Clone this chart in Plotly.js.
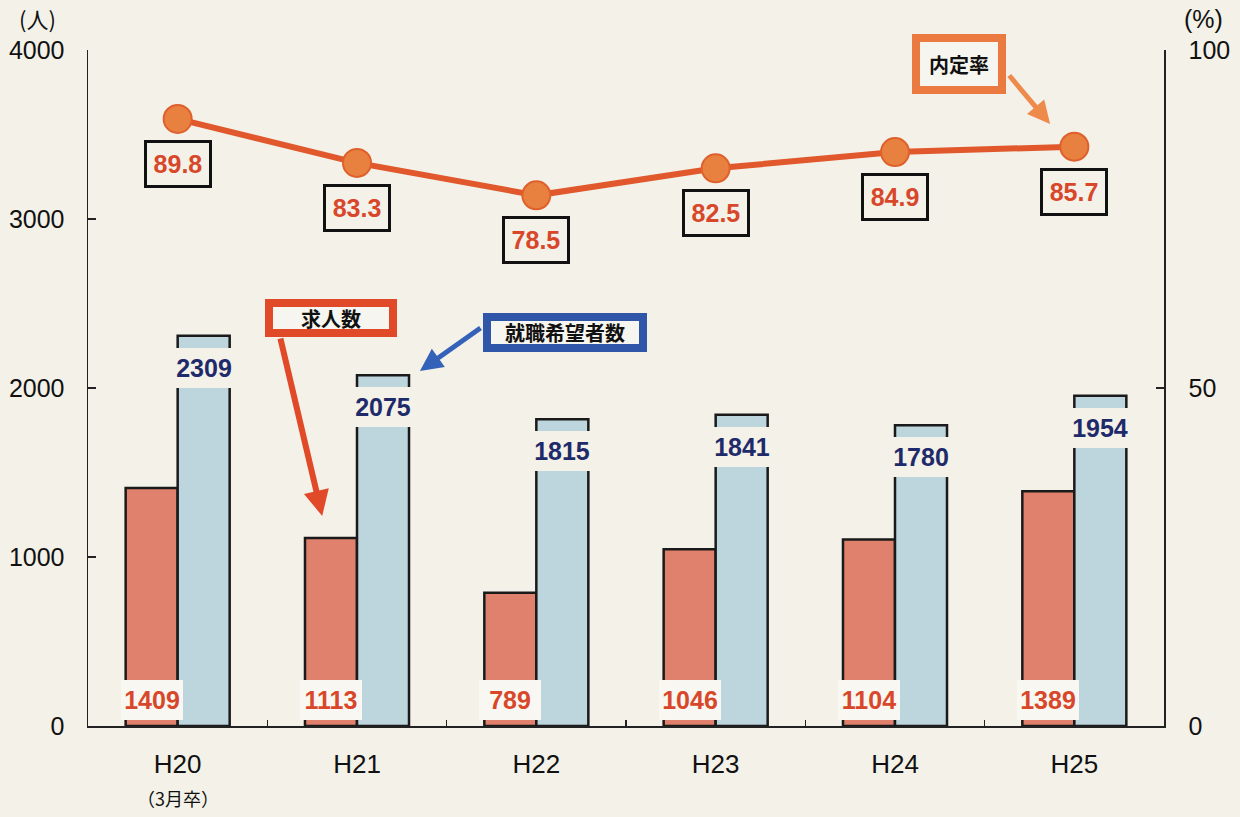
<!DOCTYPE html>
<html>
<head>
<meta charset="utf-8">
<script src="https://cdn.plot.ly/plotly-3.0.1.min.js"></script>
<style>
  html, body { margin: 0; padding: 0; background: #f3f1e8; }
  #chart { width: 1240px; height: 817px; }
</style>
</head>
<body>
<div id="chart"></div>
<script>
// ---- data ----
const categories = ['H20', 'H21', 'H22', 'H23', 'H24', 'H25'];
const jobOffers = [1409, 1113, 789, 1046, 1104, 1389];      // 求人数
const applicants = [2309, 2075, 1815, 1841, 1780, 1954];    // 就職希望者数
const offerRate = [89.8, 83.3, 78.5, 82.5, 84.9, 85.7];     // 内定率 (%)
const leftTicks = [0, 1000, 2000, 3000, 4000];
const rightTicks = [0, 50, 100];

// ---- style ----
const PAPER = '#f3f1e8';
const FONT = 'Liberation Sans, Arial, Noto Sans CJK JP, sans-serif';
const CJK = 'Noto Sans CJK JP, Liberation Sans, sans-serif';
const RED_BAR = '#e0816e';
const BLUE_BAR = '#bdd5dc';
const RED_TXT = '#d8472a';
const NAVY_TXT = '#1e2a6a';
const LINE_COL = '#e0582b';
const BARGAP = 0.42;
const BAR_W = (1 - BARGAP) / 2;

const traces = [
  {
    type: 'bar', x: categories, y: jobOffers, name: '求人数',
    marker: { color: RED_BAR, line: { color: '#1a1a1a', width: 2.5 } },
    hoverinfo: 'skip'
  },
  {
    type: 'bar', x: categories, y: applicants, name: '就職希望者数',
    marker: { color: BLUE_BAR, line: { color: '#1a1a1a', width: 2.5 } },
    hoverinfo: 'skip'
  },
  {
    type: 'scatter', mode: 'lines+markers', x: categories, y: offerRate,
    yaxis: 'y2', name: '内定率',
    line: { color: LINE_COL, width: 6 },
    marker: { size: 28, color: '#e8813f', line: { color: '#e0602d', width: 2 } },
    hoverinfo: 'skip'
  }
];

const annotations = [];

// callout arrows (drawn first, under boxes)
annotations.push({
  xref: 'x', yref: 'y', axref: 'x', ayref: 'y',
  x: 0.806, y: 1243, ax: 0.571, ay: 2302, text: '',
  showarrow: true, arrowhead: 2, arrowsize: 0.85, arrowwidth: 6, arrowcolor: '#e04a28', standoff: 0
});
annotations.push({
  xref: 'x', yref: 'y', axref: 'x', ayref: 'y',
  x: 1.351, y: 2101, ax: 1.697, ay: 2361, text: '',
  showarrow: true, arrowhead: 2, arrowsize: 0.9, arrowwidth: 5, arrowcolor: '#3462b8', standoff: 0
});
annotations.push({
  xref: 'x', yref: 'y', axref: 'x', ayref: 'y',
  x: 4.865, y: 3562, ax: 4.63, ay: 3858, text: '',
  showarrow: true, arrowhead: 2, arrowsize: 0.9, arrowwidth: 5, arrowcolor: '#ee8a4c', standoff: 0
});

// callout boxes
annotations.push({
  xref: 'x', yref: 'y', x: 0.855, y: 2414, text: '求人数', showarrow: false,
  font: { family: CJK, size: 20, color: '#111', weight: 'bold' },
  bgcolor: '#f7f5ef', bordercolor: '#e04a28', borderwidth: 8, borderpad: 0,
  width: 116, height: 22
});
annotations.push({
  xref: 'x', yref: 'y', x: 2.16, y: 2328, text: '就職希望者数', showarrow: false,
  font: { family: CJK, size: 20, color: '#111', weight: 'bold' },
  bgcolor: '#f7f5ef', bordercolor: '#2f56a8', borderwidth: 8, borderpad: 0,
  width: 148, height: 23
});
annotations.push({
  xref: 'x', yref: 'y', x: 4.357, y: 3917, text: '内定率', showarrow: false,
  font: { family: CJK, size: 20, color: '#111', weight: 'bold' },
  bgcolor: '#f7f5ef', bordercolor: '#ea7a40', borderwidth: 8, borderpad: 0,
  width: 78, height: 44
});

// rate labels (boxed, below the markers)
categories.forEach((c, i) => {
  annotations.push({
    xref: 'x', yref: 'y2', x: i, y: offerRate[i], yshift: -45,
    text: offerRate[i].toFixed(1), showarrow: false,
    font: { family: FONT, size: 25, color: RED_TXT, weight: 'bold' },
    bgcolor: PAPER, bordercolor: '#111', borderwidth: 3, borderpad: 0,
    width: 62, height: 42
  });
});

// bar value labels
categories.forEach((c, i) => {
  annotations.push({
    xref: 'x', yref: 'y', x: i - BAR_W / 2, y: 0, yshift: 26,
    text: String(jobOffers[i]), showarrow: false,
    font: { family: FONT, size: 25, color: RED_TXT, weight: 'bold' },
    bgcolor: '#f8f7f2', borderwidth: 0, borderpad: 0, width: 62, height: 40
  });
  annotations.push({
    xref: 'x', yref: 'y', x: i + BAR_W / 2, y: applicants[i], yshift: -32,
    text: String(applicants[i]), showarrow: false,
    font: { family: FONT, size: 25, color: NAVY_TXT, weight: 'bold' },
    bgcolor: PAPER, borderwidth: 0, borderpad: 0, width: 60, height: 40
  });
});

// axis unit labels and footnote
annotations.push({
  xref: 'paper', yref: 'paper', x: -0.0465, y: 1.048, text: '(人)', showarrow: false,
  font: { family: CJK, size: 22, color: '#111' }, xanchor: 'center', yanchor: 'middle'
});
annotations.push({
  xref: 'paper', yref: 'paper', x: 1.037, y: 1.046, text: '(%)', showarrow: false,
  font: { family: FONT, size: 25, color: '#111' }, xanchor: 'center', yanchor: 'middle'
});
annotations.push({
  xref: 'x', yref: 'paper', x: 0, y: -0.1065, text: '（3月卒）', showarrow: false,
  font: { family: CJK, size: 18, color: '#111' }, xanchor: 'center', yanchor: 'middle'
});

const layout = {
  width: 1240, height: 817,
  margin: { l: 88, r: 76, t: 50, b: 91, pad: 0 },
  paper_bgcolor: PAPER, plot_bgcolor: PAPER,
  showlegend: false,
  barmode: 'group', bargap: BARGAP, bargroupgap: 0,
  font: { family: FONT, color: '#111' },
  xaxis: {
    type: 'category', range: [-0.5, 5.5],
    showline: true, linecolor: '#222', linewidth: 1.5, mirror: false,
    ticks: 'inside', tickson: 'boundaries', ticklen: 6, tickwidth: 1.2, tickcolor: '#222',
    tickfont: { family: FONT, size: 26, color: '#111' }, ticklabelstandoff: 14,
    showgrid: false, zeroline: false, fixedrange: true
  },
  yaxis: {
    range: [0, 4000], tickvals: leftTicks, ticktext: leftTicks.map(String),
    showline: true, linecolor: '#222', linewidth: 1.5,
    ticks: 'inside', ticklen: 8, tickwidth: 1.5, tickcolor: '#222',
    tickfont: { family: FONT, size: 25, color: '#111' }, ticklabelstandoff: 17,
    showgrid: false, zeroline: false, fixedrange: true
  },
  yaxis2: {
    overlaying: 'y', side: 'right', range: [0, 100], tickvals: rightTicks, ticktext: rightTicks.map(String),
    showline: true, linecolor: '#222', linewidth: 1.5,
    ticks: 'inside', ticklen: 8, tickwidth: 1.5, tickcolor: '#222',
    tickfont: { family: FONT, size: 25, color: '#111' }, ticklabelstandoff: 18,
    showgrid: false, zeroline: false, fixedrange: true
  },
  annotations: annotations
};

Plotly.newPlot('chart', traces, layout, { displayModeBar: false, staticPlot: true });
</script>
</body>
</html>
